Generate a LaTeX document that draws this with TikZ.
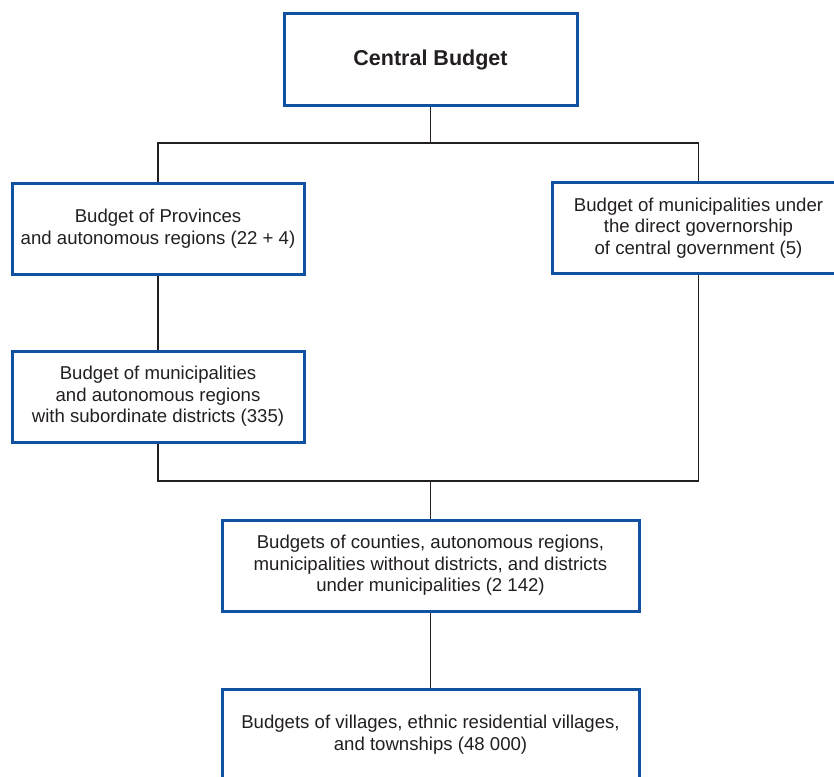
\documentclass[tikz,border=0pt]{standalone}
\usepackage{fontspec}
\setmainfont{Liberation Sans}
\usetikzlibrary{positioning}

\definecolor{boxblue}{RGB}{16,82,160}
\definecolor{ink}{RGB}{35,31,32}

\tikzset{budget/.style = {draw = boxblue, line width = 3pt, fill = white,
                          minimum width = #1, minimum height = 91pt,
                          align = center, text = ink,
                          font = \fontsize{18.6}{21.5}\selectfont},
         budget/.default = 293pt,
         link/.style = {draw = ink, line width = 1.8pt}
        }

\begin{document}
\begin{tikzpicture}[x = 1pt, y = -1pt]
  \useasboundingbox (0,0) rectangle (834,776);

  \node[budget, font = \fontsize{21.5}{24}\selectfont\bfseries] (central) at (430.5,59.5) {Central Budget};
  \node[budget = 292pt] (prov) at (158,228.5) {Budget of Provinces\\and autonomous regions (22 + 4)};
  \node[budget] (direct) at (698.5,228) {Budget of municipalities under\\the direct governorship\\of central government (5)};
  \node[budget = 292pt] (muni) at (158,396.5) {Budget of municipalities\\and autonomous regions\\with subordinate districts (335)};
  \node[budget = 417pt] (county) at (430.5,565.5) {Budgets of counties, autonomous regions,\\municipalities without districts, and districts\\under municipalities (2 142)};
  \node[budget = 417pt] (village) at (430.5,734.5) {Budgets of villages, ethnic residential villages,\\and townships (48 000)};

  \coordinate (split) at (430.5,143);
  \coordinate (join) at (430.5,481);

  \path[link] (central.south) -- (split);
  \path[link] (prov.north) |- (split) -| (direct.north);
  \path[link] (prov.south) -- (muni.north);
  \path[link] (muni.south) |- (join) -| (direct.south);
  \path[link] (join) -- (county.north);
  \path[link] (county.south) -- (village.north);
\end{tikzpicture}
\end{document}
